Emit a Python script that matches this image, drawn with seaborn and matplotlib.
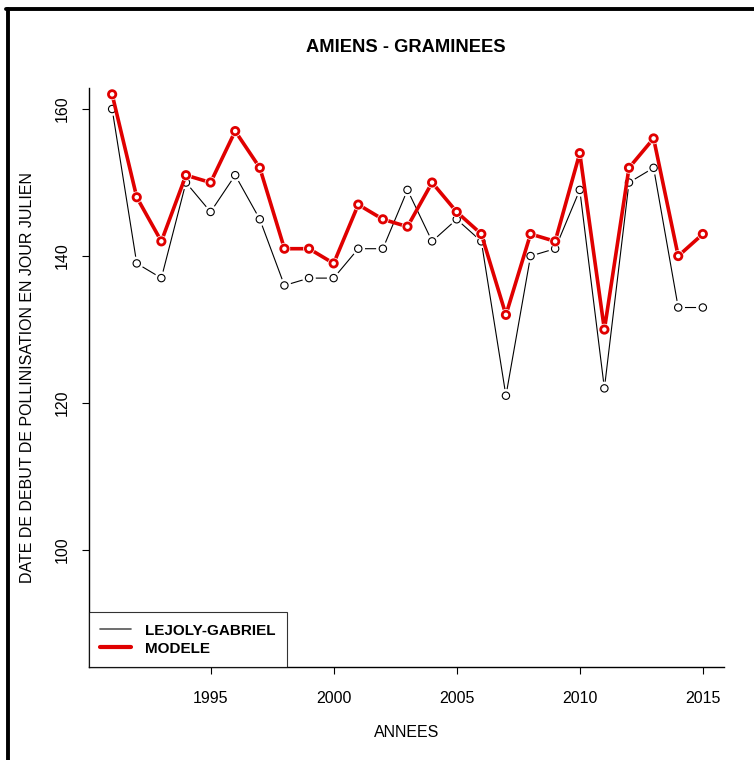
"""
AMIENS - GRAMINEES : start of pollination date (julian day)
"""

import pandas as pd
import matplotlib.pyplot as plt
import seaborn as sns
from matplotlib.lines import Line2D


# ============================================================
# Data
# ============================================================

years = list(range(1991, 2016))

lejoly_gabriel = [
    160, 139, 137, 150, 146, 151, 145, 136, 137, 137, 141, 141, 149,
    142, 145, 142, 121, 140, 141, 149, 122, 150, 152, 133, 133,
]

modele = [
    162, 148, 142, 151, 150, 157, 152, 141, 141, 139, 147, 145, 144,
    150, 146, 143, 132, 143, 142, 154, 130, 152, 156, 140, 143,
]

x_ticks = [1995, 2000, 2005, 2010, 2015]
y_ticks = [100, 120, 140, 160]

data = pd.DataFrame({
    "annee": years,
    "lejoly": lejoly_gabriel,
    "modele": modele,
})

RED = "#e00000"


# ============================================================
# Theme
# ============================================================

sns.set_style("ticks")
plt.rcParams["font.family"] = ["Liberation Sans", "DejaVu Sans"]
plt.rcParams["text.color"] = "black"
plt.rcParams["axes.labelcolor"] = "black"


# ============================================================
# Figure
# ============================================================

fig = plt.figure(figsize=(7.54, 7.60), dpi=100)
ax = fig.add_axes([89 / 754, 1 - 667 / 760, (724 - 89) / 754, (667 - 88) / 760])

# black series: line, white gap around points, open circles
sns.lineplot(data=data, x="annee", y="lejoly", color="black",
             linewidth=0.8, ax=ax, zorder=2)
ax.scatter(data["annee"], data["lejoly"], s=95, color="white",
           edgecolors="none", zorder=3)
ax.scatter(data["annee"], data["lejoly"], s=28, facecolors="none",
           edgecolors="black", linewidths=0.8, zorder=4)

# red series
sns.lineplot(data=data, x="annee", y="modele", color=RED,
             linewidth=2.6, ax=ax, zorder=5)
ax.scatter(data["annee"], data["modele"], s=70, color="white",
           edgecolors="none", zorder=6)
ax.scatter(data["annee"], data["modele"], s=28, facecolors="none",
           edgecolors=RED, linewidths=2.0, zorder=7)

ax.set_xlim(1990.06, 2015.86)
ax.set_ylim(84.1, 162.86)

ax.set_xticks(x_ticks)
ax.set_yticks(y_ticks)
ax.set_yticklabels([str(v) for v in y_ticks], rotation=90, va="center")

ax.tick_params(axis="x", direction="out", length=5, width=0.8,
               labelsize=11.5, pad=12, colors="black")
ax.tick_params(axis="y", direction="out", length=5, width=0.8,
               labelsize=11.5, pad=9, colors="black")

sns.despine(ax=ax)
for side in ["left", "bottom"]:
    ax.spines[side].set_linewidth(1.0)
    ax.spines[side].set_color("black")

ax.set_xlabel("ANNEES", fontsize=11.5, labelpad=14, color="black")
ax.set_ylabel("DATE DE DEBUT DE POLLINISATION EN JOUR JULIEN",
              fontsize=11.5, labelpad=14, color="black")

fig.text(406 / 754, 1 - 48 / 760, "AMIENS - GRAMINEES",
         ha="center", va="center", fontsize=13.2, fontweight="bold",
         color="black")

# legend
handles = [
    Line2D([0], [0], color="#555555", linewidth=1.2),
    Line2D([0], [0], color=RED, linewidth=3),
]
legend = ax.legend(
    handles,
    ["LEJOLY-GABRIEL", "MODELE"],
    loc="lower left",
    bbox_to_anchor=(0, 0),
    borderaxespad=0,
    frameon=True,
    fancybox=False,
    prop={"weight": "bold", "size": 11},
    handlelength=2.0,
    handletextpad=0.9,
    borderpad=0.75,
    labelspacing=0.25,
)
legend.get_frame().set_edgecolor("black")
legend.get_frame().set_linewidth(0.8)
for text in legend.get_texts():
    text.set_color("black")

# outer frame (left and top edges)
fig.add_artist(Line2D([7.5 / 754, 7.5 / 754], [0, 1 - 9 / 760],
                      color="black", linewidth=2.8, transform=fig.transFigure))
fig.add_artist(Line2D([6 / 754, 1], [1 - 9 / 760, 1 - 9 / 760],
                      color="black", linewidth=2.8, transform=fig.transFigure))

fig.savefig("out.png", dpi=100)
plt.close(fig)
